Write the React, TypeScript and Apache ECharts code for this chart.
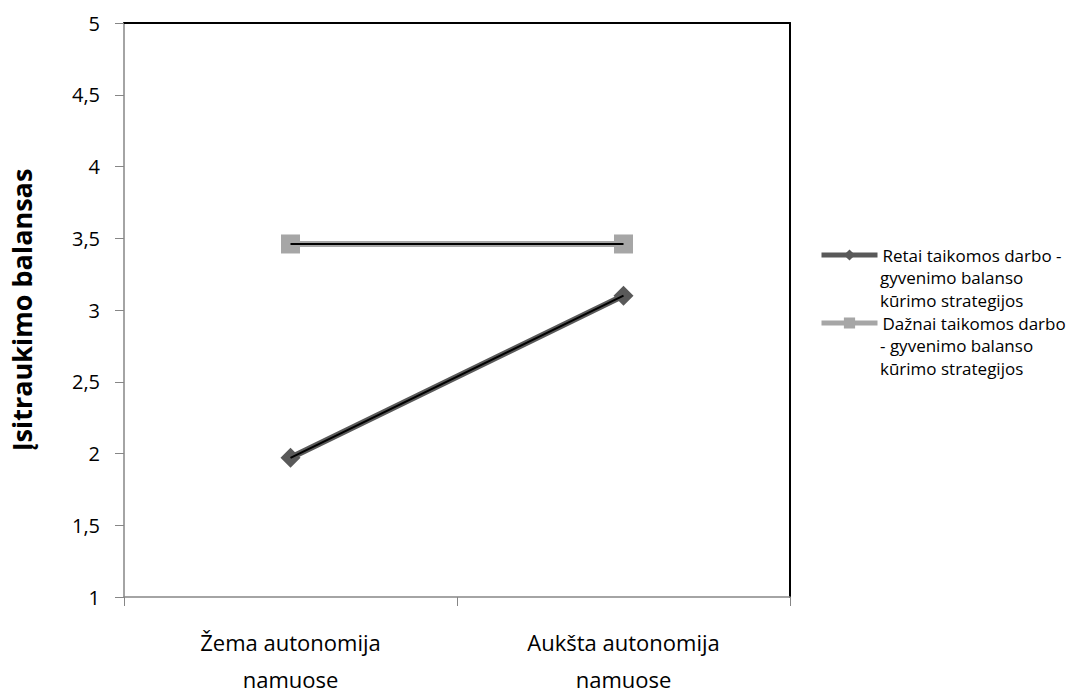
import React, { useEffect, useRef } from "react";
import * as echarts from "echarts";

const categories = ["Žema autonomija\nnamuose", "Aukšta autonomija\nnamuose"];
const seriesNames = ["Retai taikomos darbo -", "Dažnai taikomos darbo"];
const legendExtraLines = [
  ["gyvenimo balanso", "kūrimo strategijos"],
  ["- gyvenimo balanso", "kūrimo strategijos"],
];
const retaiValues = [1.97, 3.1];
const daznaiValues = [3.46, 3.46];
const yMin = 1;
const yMax = 5;
const yStep = 0.5;
const yAxisTitle = "Įsitraukimo balansas";

const FONT = "'Open Sans', sans-serif";

export default function App() {
  const ref = useRef<HTMLDivElement>(null);
  useEffect(() => {
    if (!ref.current) return;
    const chart = echarts.init(ref.current, null, { renderer: "svg" });
    const legendTexts: any[] = [];
    const lineYs = [277.5, 300, 345.5, 368];
    legendExtraLines.flat().forEach((t, i) => {
      legendTexts.push({
        type: "text",
        x: 880,
        y: lineYs[i],
        style: {
          text: t,
          fontSize: 17,
          fontFamily: FONT,
          fill: "#000",
          verticalAlign: "middle",
        },
      });
    });
    chart.setOption({
      animation: false,
      textStyle: { fontFamily: FONT },
      grid: { left: 120, width: 670, top: 23, height: 583, containLabel: false },
      legend: {
        orient: "vertical",
        left: 819,
        top: 246.5,
        padding: 0,
        itemWidth: 56,
        itemHeight: 14,
        itemGap: 51,
        data: seriesNames,
        lineStyle: { width: 5 },
        textStyle: { fontSize: 17, fontFamily: FONT, color: "#000" },
      },
      graphic: legendTexts,
      xAxis: [
        {
          type: "category",
          data: categories,
          boundaryGap: true,
          axisLine: { lineStyle: { color: "#868686", width: 1.5 } },
          axisTick: { show: true, length: 9, lineStyle: { color: "#868686" } },
          axisLabel: {
            margin: 26,
            fontSize: 22,
            lineHeight: 37,
            color: "#000",
            fontFamily: FONT,
          },
        },
        {
          type: "category",
          data: categories,
          position: "top",
          axisLine: { lineStyle: { color: "#000", width: 2 } },
          axisTick: { show: false },
          axisLabel: { show: false },
        },
      ],
      yAxis: [
        {
          type: "value",
          min: yMin,
          max: yMax,
          interval: yStep,
          name: yAxisTitle,
          nameLocation: "middle",
          nameGap: 89,
          nameRotate: 90,
          nameTextStyle: { fontSize: 27, fontWeight: "bold", color: "#000", fontFamily: FONT },
          axisLine: { show: true, lineStyle: { color: "#868686", width: 1.5 } },
          axisTick: { show: true, length: 9, lineStyle: { color: "#868686" } },
          splitLine: { show: false },
          axisLabel: {
            margin: 24,
            fontSize: 20,
            color: "#000",
            fontFamily: FONT,
            formatter: (v: number) => String(v).replace(".", ","),
          },
        },
        {
          type: "value",
          min: yMin,
          max: yMax,
          interval: yStep,
          position: "right",
          axisLine: { show: true, lineStyle: { color: "#000", width: 2 } },
          axisTick: { show: false },
          axisLabel: { show: false },
          splitLine: { show: false },
        },
      ],
      series: [
        {
          name: seriesNames[0],
          type: "line",
          data: retaiValues,
          symbol: "diamond",
          symbolSize: 20,
          color: "#595959",
          itemStyle: { color: "#595959" },
          lineStyle: { color: "#595959", width: 6 },
          z: 2,
        },
        {
          name: seriesNames[1],
          type: "line",
          data: daznaiValues,
          symbol: "rect",
          symbolSize: 19,
          color: "#a6a6a6",
          itemStyle: { color: "#a6a6a6" },
          lineStyle: { color: "#a6a6a6", width: 6 },
          z: 2,
        },
        {
          name: "core1",
          type: "line",
          data: retaiValues,
          symbol: "none",
          lineStyle: { color: "#000", width: 2 },
          z: 3,
        },
        {
          name: "core2",
          type: "line",
          data: daznaiValues,
          symbol: "none",
          lineStyle: { color: "#000", width: 2 },
          z: 3,
        },
      ],
    });
    return () => chart.dispose();
  }, []);
  return (
    <div
      ref={ref}
      style={{ position: "fixed", left: 0, top: 0, width: 1078, height: 697, background: "#fff" }}
    />
  );
}
